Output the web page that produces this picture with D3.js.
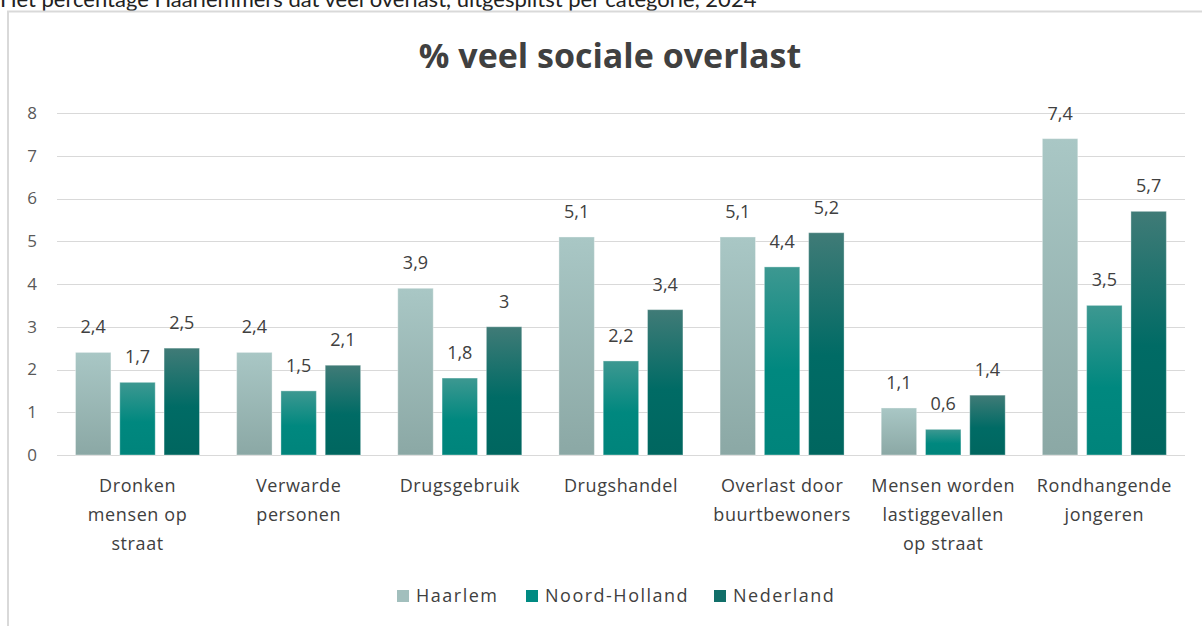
<!DOCTYPE html>
<html><head><meta charset="utf-8">
<script src="https://cdn.jsdelivr.net/npm/d3@7"></script>
<style>
html,body{margin:0;padding:0;background:#fff;overflow:hidden}
svg{display:block}
</style></head>
<body>
<script>
const categories = [
  ["Dronken","mensen op","straat"],
  ["Verwarde","personen"],
  ["Drugsgebruik"],
  ["Drugshandel"],
  ["Overlast door","buurtbewoners"],
  ["Mensen worden","lastiggevallen","op straat"],
  ["Rondhangende","jongeren"]
];
const series = ["Haarlem","Noord-Holland","Nederland"];
const haarlem = [2.4, 2.4, 3.9, 5.1, 5.1, 1.1, 7.4];
const noordHolland = [1.7, 1.5, 1.8, 2.2, 4.4, 0.6, 3.5];
const nederland = [2.5, 2.1, 3.0, 3.4, 5.2, 1.4, 5.7];
const yTicks = [0,1,2,3,4,5,6,7,8];
const values = [haarlem, noordHolland, nederland];

const W = 1202, H = 626;
const svg = d3.select("body").append("svg").attr("width", W).attr("height", H);
const font = "'Open Sans', 'Noto Sans', sans-serif";

// gradients
const defs = svg.append("defs");
const grads = [
  {id:"g0", stops:[["0%","#a9c7c5"],["100%","#8ba8a5"]]},
  {id:"g1", stops:[["0%","#3d9891"],["55%","#00887f"],["100%","#00847b"]]},
  {id:"g2", stops:[["0%","#407b77"],["55%","#006b65"],["100%","#00665f"]]}
];
grads.forEach(g => {
  const lg = defs.append("linearGradient").attr("id", g.id).attr("x1",0).attr("y1",0).attr("x2",0).attr("y2",1);
  g.stops.forEach(s => lg.append("stop").attr("offset", s[0]).attr("stop-color", s[1]));
});
const legendColors = ["#a2bfbd","#008a82","#116f69"];

// top caption (partially cut off by the frame)
svg.append("text").attr("x", 0).attr("y", 7).attr("font-family", "Lato, 'Open Sans', sans-serif")
  .attr("font-size", 22).attr("fill", "#222")
  .text("Het percentage Haarlemmers dat veel overlast, uitgesplitst per categorie, 2024");

// chart border
svg.append("path").attr("d", `M8,${H} L8,11.5 L${W},11.5`).attr("fill","none")
  .attr("stroke","#d9d9d9").attr("stroke-width",2);

// title
svg.append("text").attr("x", 610).attr("y", 68).attr("text-anchor","middle")
  .attr("font-family", font).attr("font-weight","bold").attr("font-size", 34)
  .attr("fill","#404040").text("% veel sociale overlast");

const y = d3.scaleLinear().domain([0, 8]).range([455, 113]);
const x0 = d3.scaleBand().domain(d3.range(categories.length)).range([57, 1185]);
const x1 = d3.scaleBand().domain(series).range([18.5, 142.5]).paddingInner(0.2);

// gridlines
svg.append("g").selectAll("line").data(yTicks).join("line")
  .attr("x1", 57).attr("x2", 1185)
  .attr("y1", d => Math.round(y(d)) + 0.5).attr("y2", d => Math.round(y(d)) + 0.5)
  .attr("stroke", "#d9d9d9").attr("stroke-width", 1.2);

// y axis labels
const yAxis = d3.axisLeft(y).tickValues(yTicks).tickSize(0).tickPadding(0);
const yg = svg.append("g").attr("transform", "translate(37,0)").call(yAxis);
yg.select(".domain").remove();
yg.selectAll("text").attr("font-family", font).attr("font-size", 17).attr("fill","#595959");

// bars
const groups = svg.append("g").selectAll("g").data(categories).join("g")
  .attr("transform", (d,i) => `translate(${x0(i)},0)`);
series.forEach((s, si) => {
  groups.append("rect")
    .attr("x", (d,i) => x1(s))
    .attr("y", (d,i) => y(values[si][i]))
    .attr("width", x1.bandwidth())
    .attr("height", (d,i) => y(0) - y(values[si][i]))
    .attr("fill", `url(#g${si})`)
    .attr("stroke", "rgba(255,255,255,0.35)").attr("stroke-width", 1);
  groups.append("text")
    .attr("x", x1(s) + x1.bandwidth()/2)
    .attr("y", (d,i) => y(values[si][i]) - 19)
    .attr("text-anchor","middle").attr("font-family", font).attr("font-size", 18).attr("fill","#404040")
    .text((d,i) => String(values[si][i]).replace(".", ","));
});

// category labels
groups.each(function(lines, i) {
  const t = d3.select(this).append("text").attr("text-anchor","middle")
    .attr("font-family", font).attr("font-size", 18).attr("letter-spacing", 0.6).attr("fill","#404040");
  lines.forEach((l, li) => t.append("tspan").attr("x", x0.bandwidth()/2).attr("y", 492 + li*29).text(l));
});

// legend
const legendX = [397, 526, 714];
const lg = svg.append("g").selectAll("g").data(series).join("g")
  .attr("transform", (d,i) => `translate(${legendX[i]},0)`);
lg.append("rect").attr("x",0).attr("y",590).attr("width",12).attr("height",12)
  .attr("fill", (d,i) => legendColors[i]);
lg.append("text").attr("x", 19).attr("y", 602).attr("font-family", font).attr("font-size", 18)
  .attr("letter-spacing", 1.5).attr("fill","#404040").text(d => d);
</script>
</body></html>
